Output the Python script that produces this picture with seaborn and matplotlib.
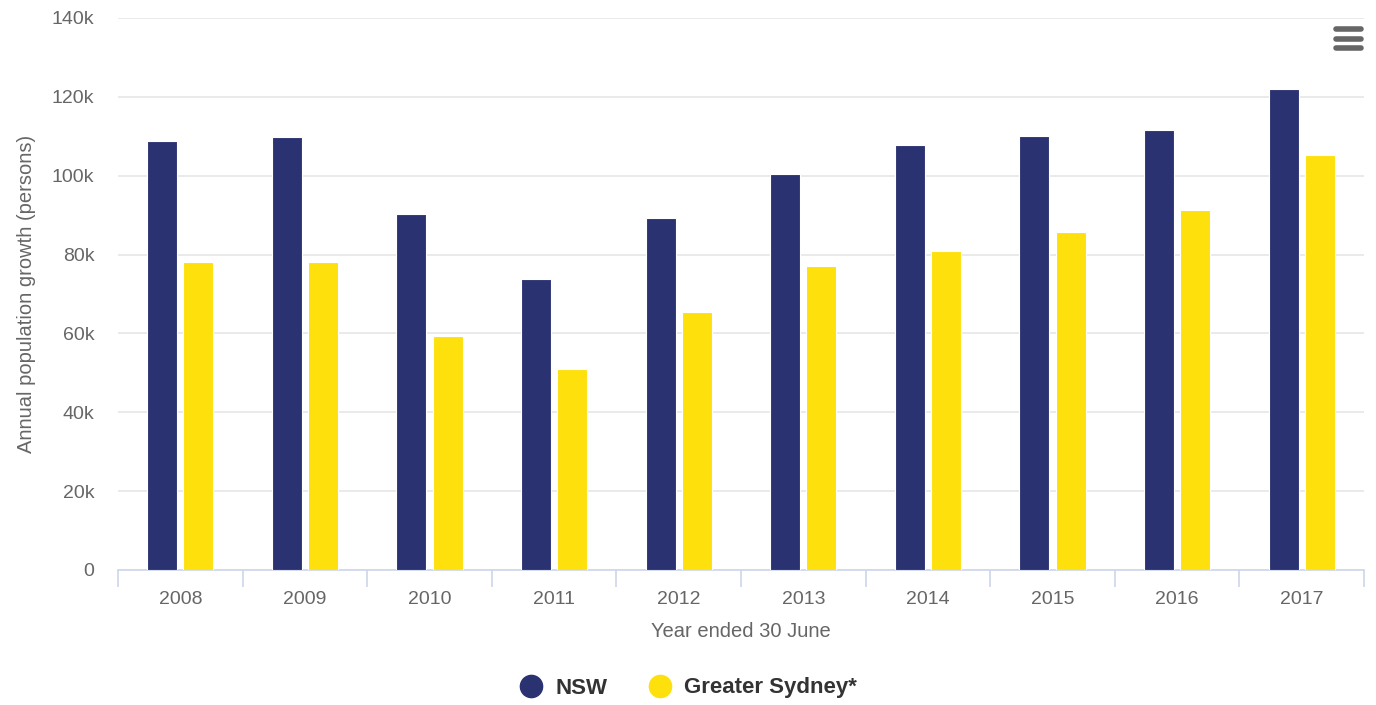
import seaborn as sns
import pandas as pd
import matplotlib.pyplot as plt
from matplotlib.lines import Line2D
from matplotlib.ticker import FuncFormatter, MultipleLocator

years = ["2008", "2009", "2010", "2011", "2012", "2013", "2014", "2015", "2016", "2017"]
nsw = [108900, 109900, 90300, 73900, 89300, 100500, 107900, 110000, 111700, 122000]
sydney = [78200, 78200, 59400, 51000, 65500, 77200, 81000, 85600, 91200, 105300]
series = ["NSW", "Greater Sydney*"]
colors = ["#2b3272", "#fde00c"]

data = pd.DataFrame({
    "Year": years * 2,
    "Growth": nsw + sydney,
    "Series": [series[0]] * len(years) + [series[1]] * len(years),
})

sns.set_style("white")
plt.rcParams["font.family"] = ["Liberation Sans", "DejaVu Sans"]

fig = plt.figure(figsize=(13.76, 7.05), dpi=100)
ax = fig.add_axes([118 / 1376, 1 - 570 / 705, 1246 / 1376, 552 / 705])

sns.barplot(data=data, x="Year", y="Growth", hue="Series", palette=colors,
            saturation=1, width=0.58, gap=0.17, edgecolor="white", linewidth=0.8,
            legend=False, ax=ax, zorder=3)

ax.set_xlim(-0.5, 9.5)
ax.set_ylim(0, 140000)
ax.yaxis.set_major_locator(MultipleLocator(20000))
ax.yaxis.set_major_formatter(FuncFormatter(lambda v, p: "0" if v == 0 else f"{int(v / 1000)}k"))
ax.grid(axis="y", color="#e6e6e6", linewidth=1.2, zorder=0)
ax.set_axisbelow(True)

for s in ["top", "right", "left"]:
    ax.spines[s].set_visible(False)
ax.spines["bottom"].set_color("#ccd6eb")
ax.spines["bottom"].set_linewidth(1.2)

ax.set_xticks(range(len(years)))
ax.set_xticklabels(years)
ax.set_xticks([i - 0.5 for i in range(len(years) + 1)], minor=True)
ax.tick_params(axis="x", which="major", bottom=True, length=0, pad=15,
               labelsize=14, labelcolor="#666666")
ax.tick_params(axis="x", which="minor", bottom=True, length=12.5, width=1.2, color="#ccd6eb")
ax.tick_params(axis="y", length=0, pad=17, labelsize=14, labelcolor="#666666")

ax.set_xlabel("Year ended 30 June", fontsize=14.5, color="#666666", labelpad=10)
ax.set_ylabel("Annual population growth (persons)", fontsize=14.5, color="#666666", labelpad=11)

handles = [Line2D([], [], marker="o", linestyle="", markersize=16, color=c) for c in colors]
fig.legend(handles, series, loc="center", bbox_to_anchor=(0.5 - 5 / 1376, 1 - 688 / 705), ncol=2,
           frameon=False, handletextpad=0.08, columnspacing=1.4,
           prop={"weight": "bold", "size": 16}, labelcolor="#333333")

# menu icon
for yy in [29, 38.5, 48]:
    fig.add_artist(Line2D([1336 / 1376, 1361 / 1376], [1 - yy / 705] * 2,
                          color="#666666", linewidth=4, solid_capstyle="round"))

fig.savefig("out.png", dpi=100)
